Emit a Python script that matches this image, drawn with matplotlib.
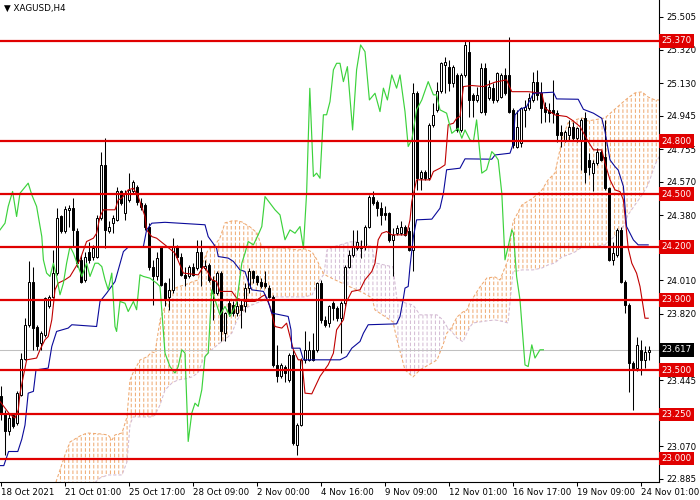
import matplotlib
matplotlib.use("Agg")
import matplotlib.pyplot as plt
import numpy as np
from matplotlib.transforms import blended_transform_factory

# ---------------- data ----------------
opens = [
    23.352, 23.258, 23.154, 23.249, 23.201, 23.362, 23.564, 23.759, 24.004, 23.749,
    23.655, 23.702, 23.863, 23.919, 24.052, 24.373, 24.288, 24.411, 24.420, 24.288,
    24.127, 24.014, 24.174, 24.146, 24.146, 24.363, 24.666, 24.288, 24.335, 24.354,
    24.515, 24.392, 24.467, 24.518, 24.543, 24.448, 24.439, 24.316, 24.089, 24.033,
    24.203, 23.995, 23.919, 23.957, 24.203, 24.146, 24.042, 24.033, 24.089, 24.080,
    24.174, 24.080, 24.099, 24.014, 23.938, 24.052, 23.711, 23.881, 23.872, 23.825,
    23.872, 23.863, 23.967, 24.061, 24.033, 24.004, 23.995, 23.967, 23.919, 23.532,
    23.466, 23.522, 23.447, 23.589, 23.078, 23.192, 23.560, 23.560, 23.617, 23.617,
    23.995, 23.787, 23.768, 23.881, 23.853, 23.796, 23.881, 24.089, 24.156, 24.193,
    24.203, 24.203, 24.316, 24.486, 24.458, 24.420, 24.392, 24.392, 24.241, 24.278,
    24.278, 24.316, 24.288, 24.184, 25.072, 24.590, 24.628, 24.590, 24.893, 24.978,
    25.082, 25.233, 25.223, 25.129, 25.176, 24.864, 25.176, 25.308, 25.063, 25.034,
    24.968, 25.214, 25.044, 25.101, 25.034, 25.053, 25.176, 25.176, 24.978, 24.770,
    24.789, 24.978, 24.987, 25.034, 25.138, 25.072, 24.996, 24.978, 24.978, 24.959,
    24.855, 24.808, 24.836, 24.883, 24.817, 24.808, 24.930, 24.694, 24.618, 24.675,
    24.741, 24.713, 24.533, 24.127, 24.156, 24.297, 24.004, 23.872, 23.541, 23.513,
    23.617, 23.560, 23.607]
highs = [
    23.409, 23.277, 23.258, 23.258, 23.381, 23.598, 23.797, 24.118, 24.089, 23.759,
    23.721, 23.919, 23.929, 24.184, 24.420, 24.382, 24.430, 24.439, 24.477, 24.307,
    24.156, 24.174, 24.231, 24.212, 24.382, 24.741, 24.817, 24.345, 24.382, 24.543,
    24.524, 24.524, 24.619, 24.581, 24.552, 24.477, 24.448, 24.335, 24.127, 24.174,
    24.203, 24.004, 24.023, 24.250, 24.212, 24.165, 24.089, 24.099, 24.108, 24.241,
    24.241, 24.127, 24.108, 24.033, 24.061, 24.061, 23.834, 23.900, 23.891, 23.891,
    23.900, 23.995, 24.080, 24.070, 24.042, 24.023, 24.061, 23.985, 23.929, 23.645,
    23.541, 23.532, 23.598, 23.617, 23.201, 23.570, 23.721, 23.664, 23.711, 24.004,
    24.014, 23.806, 23.872, 23.891, 23.863, 23.891, 24.099, 24.184, 24.297, 24.297,
    24.241, 24.326, 24.496, 24.515, 24.467, 24.458, 24.430, 24.401, 24.307, 24.326,
    24.345, 24.326, 24.316, 25.129, 25.082, 24.637, 24.637, 24.902, 25.015, 25.138,
    25.252, 25.280, 25.261, 25.233, 25.186, 25.186, 25.375, 25.375, 25.072, 25.110,
    25.242, 25.242, 25.148, 25.129, 25.195, 25.185, 25.214, 25.390, 24.987, 24.978,
    24.996, 25.034, 25.072, 25.195, 25.204, 25.138, 25.025, 25.015, 25.148, 24.978,
    24.892, 24.864, 24.921, 24.911, 24.883, 24.930, 24.968, 24.732, 24.694, 24.760,
    24.751, 24.921, 24.543, 24.231, 24.307, 24.316, 24.014, 23.881, 23.551, 23.692,
    23.674, 23.636, 23.636]
lows = [
    23.220, 23.020, 23.135, 23.173, 23.192, 23.352, 23.560, 23.749, 23.617, 23.617,
    23.617, 23.692, 23.853, 23.910, 24.042, 24.278, 24.278, 24.316, 24.203, 24.089,
    23.995, 24.004, 24.108, 24.127, 24.137, 24.354, 24.193, 24.278, 24.278, 24.345,
    24.439, 24.354, 24.458, 24.505, 24.439, 24.411, 24.297, 24.070, 23.872, 24.014,
    23.976, 23.863, 23.844, 23.938, 24.137, 24.033, 23.976, 24.023, 24.033, 24.070,
    23.976, 24.070, 24.004, 23.787, 23.929, 23.664, 23.664, 23.806, 23.806, 23.806,
    23.740, 23.834, 23.938, 23.995, 23.985, 23.967, 23.967, 23.910, 23.522, 23.437,
    23.456, 23.437, 23.437, 23.078, 23.022, 23.182, 23.541, 23.551, 23.551, 23.607,
    23.768, 23.749, 23.749, 23.787, 23.778, 23.598, 23.863, 24.080, 24.146, 24.184,
    24.137, 24.184, 24.307, 24.439, 24.373, 24.326, 24.354, 24.231, 24.033, 24.269,
    24.269, 24.260, 24.175, 24.061, 24.524, 24.524, 24.581, 24.581, 24.883, 24.968,
    25.072, 25.072, 25.082, 25.110, 24.855, 24.855, 25.167, 24.940, 24.940, 25.025,
    24.959, 24.949, 25.034, 25.015, 25.025, 25.044, 25.063, 24.959, 24.760, 24.760,
    24.770, 24.883, 24.978, 25.025, 25.034, 24.902, 24.911, 24.911, 24.902, 24.798,
    24.770, 24.798, 24.808, 24.808, 24.798, 24.637, 24.562, 24.609, 24.515, 24.666,
    24.685, 24.524, 24.118, 24.099, 24.146, 23.995, 23.825, 23.380, 23.276, 23.494,
    23.475, 23.513, 23.560]
closes = [
    23.258, 23.154, 23.229, 23.182, 23.371, 23.564, 23.759, 24.004, 23.740, 23.636,
    23.711, 23.910, 23.919, 24.052, 24.363, 24.288, 24.414, 24.424, 24.297, 24.108,
    24.004, 24.146, 24.127, 24.193, 24.363, 24.666, 24.297, 24.312, 24.367, 24.515,
    24.448, 24.505, 24.524, 24.566, 24.458, 24.426, 24.316, 24.089, 24.033, 24.137,
    23.985, 23.900, 23.957, 24.203, 24.146, 24.042, 24.023, 24.089, 24.042, 24.174,
    24.089, 24.093, 24.014, 23.938, 24.052, 23.721, 23.825, 23.825, 23.825, 23.863,
    23.844, 23.967, 24.061, 24.023, 24.004, 23.976, 23.976, 23.919, 23.532, 23.466,
    23.532, 23.485, 23.589, 23.088, 23.192, 23.560, 23.617, 23.617, 23.560, 23.995,
    23.787, 23.759, 23.863, 23.853, 23.796, 23.881, 24.089, 24.156, 24.203, 24.231,
    24.193, 24.316, 24.486, 24.448, 24.420, 24.382, 24.382, 24.241, 24.269, 24.307,
    24.316, 24.269, 24.184, 25.072, 24.590, 24.628, 24.590, 24.893, 24.949, 25.082,
    25.242, 25.252, 25.129, 25.223, 24.864, 25.176, 25.346, 25.034, 25.034, 25.063,
    25.214, 24.968, 25.110, 25.034, 25.185, 25.176, 25.072, 24.968, 24.779, 24.883,
    24.987, 24.996, 25.044, 25.138, 25.063, 24.987, 24.968, 24.959, 24.959, 24.836,
    24.836, 24.855, 24.883, 24.817, 24.874, 24.921, 24.628, 24.656, 24.675, 24.741,
    24.694, 24.533, 24.127, 24.165, 24.297, 24.004, 23.872, 23.541, 23.513, 23.645,
    23.560, 23.607, 23.617]

# Tenkan-sen (red)
tenkan_bars = [
    -0.25, 2.25, 3.5, 4.33, 4.75, 5.58, 6.42, 8.9, 9.75, 11.0,
    11.8, 12.7, 13.5, 14.3, 16.0, 17.25, 18.5, 19.75, 21.4, 23.1,
    23.9, 24.75, 25.6, 28.5, 29.3, 30.2, 31.8, 33.1, 34.3, 36.0,
    36.4, 37.7, 38.9, 41.0, 43.5, 45.6, 49.3, 50.6, 51.4, 52.7,
    53.9, 54.75, 57.7, 58.9, 61, 63.5, 65.2, 66, 67.25, 68.5,
    70.2, 71.4, 72.25, 73.1, 74.3, 75.2, 76, 77.7, 79.75, 81.8,
    83.1, 83.9, 84.75, 85.6, 86.4, 87.7, 89.75, 91, 92.7, 93.5,
    94.3, 95.2, 96.4, 97.7, 101.4, 102.25, 102.7, 103.9, 107.25, 108.1,
    109.75, 111, 111.8, 113.1, 113.9, 114.75, 115.6, 117.7, 120.6, 123.5,
    126.4, 127.7, 131.8, 135.2, 136, 138.5, 141.4, 142.7, 144.75, 146.8,
    148.1, 150.2, 151, 152.25, 153.5, 154.75, 155.6, 156.8, 157.7, 158.9,
    159.75, 161, 161.8]
tenkan_vals = [
    23.324, 23.249, 23.230, 23.277, 23.371, 23.466, 23.560, 23.570, 23.617, 23.674,
    23.692, 23.787, 23.957, 23.995, 24.014, 24.033, 24.080, 24.127, 24.231, 24.250,
    24.278, 24.373, 24.411, 24.411, 24.467, 24.477, 24.524, 24.533, 24.486, 24.373,
    24.297, 24.259, 24.250, 24.212, 24.165, 24.052, 24.042, 24.089, 24.070, 24.014,
    24.004, 23.948, 23.948, 23.910, 23.891, 23.891, 23.919, 23.929, 23.863, 23.749,
    23.740, 23.768, 23.692, 23.617, 23.560, 23.560, 23.371, 23.367, 23.466, 23.532,
    23.598, 23.730, 23.759, 23.787, 23.891, 23.948, 23.957, 24.014, 24.061, 24.108,
    24.241, 24.278, 24.288, 24.269, 24.269, 24.354, 24.458, 24.581, 24.581, 24.628,
    24.647, 24.666, 24.893, 24.902, 24.930, 24.940, 25.110, 25.116, 25.110, 25.135,
    25.148, 25.081, 25.081, 25.072, 24.987, 24.949, 24.940, 24.921, 24.883, 24.798,
    24.751, 24.751, 24.675, 24.581, 24.524, 24.514, 24.467, 24.193, 24.108, 24.051,
    23.976, 23.796, 23.796]

# Kijun-sen (blue)
kijun_bars = [
    -0.25, 0.7, 1.9, 4.2, 5.2, 6.0, 6.8, 8.1, 8.75, 11.8,
    12.7, 13.9, 16.8, 17.7, 23.9, 24.75, 26.4, 28.5, 30.6, 31.8,
    35.6, 36.4, 37.7, 41, 51, 51.8, 53.9, 54.3, 56.8, 58.1,
    59.75, 61, 61.8, 62.7, 65.6, 66.8, 67.7, 71.8, 72.5, 72.7,
    74.75, 75.6, 84.75, 86.4, 87.7, 89.75, 90.6, 91.8, 98.9, 99.75,
    100.6, 101, 101.8, 102.25, 103.1, 103.9, 107.7, 109.75, 110.6, 111.4,
    114.75, 116, 122.7, 123.5, 127.25, 128.1, 128.5, 129.75, 131.4, 133.1,
    138.1, 138.9, 144.3, 145.6, 148.1, 150.2, 151, 152.25, 153.5, 154.3,
    155.6, 156.4, 157.25, 158.1, 159.3, 161.8]
kijun_vals = [
    22.960, 22.960, 23.040, 23.040, 23.110, 23.190, 23.371, 23.381, 23.503, 23.513,
    23.636, 23.721, 23.740, 23.759, 23.749, 23.891, 23.938, 24.004, 24.174, 24.199,
    24.203, 24.297, 24.335, 24.340, 24.326, 24.259, 24.193, 24.146, 24.137, 24.118,
    24.070, 24.061, 24.004, 23.957, 23.948, 23.891, 23.825, 23.806, 23.730, 23.626,
    23.626, 23.560, 23.560, 23.579, 23.626, 23.664, 23.711, 23.759, 23.764, 23.806,
    23.910, 23.967, 23.976, 24.089, 24.259, 24.354, 24.358, 24.420, 24.505, 24.638,
    24.647, 24.700, 24.698, 24.722, 24.732, 24.788, 24.949, 24.981, 24.996, 25.072,
    25.078, 25.040, 25.038, 24.981, 24.959, 24.930, 24.855, 24.694, 24.656, 24.637,
    24.543, 24.316, 24.278, 24.240, 24.212, 24.212]

# Chikou span (green)
chikou_bars = [
    -0.25, 1, 1.8, 2.9, 3.9, 4.75, 6.8, 7.7, 8.9, 10.2,
    10.6, 11.4, 12.25, 13.1, 13.9, 14.75, 15.6, 16.4, 17.25, 18.1,
    19.3, 20.2, 21.4, 22.25, 23.5, 24.3, 25.2, 26, 26.8, 27.7,
    28.5, 28.9, 29.75, 31, 31.8, 33.1, 33.9, 34.75, 35.6, 37.25,
    38.9, 39.75, 41, 42.25, 43.5, 44.3, 45.2, 46, 46.8, 47.7,
    48.5, 49.3, 50.2, 51, 51.8, 52.7, 53.5, 54.75, 56, 57.25,
    58.1, 58.9, 60.2, 61, 61.8, 63.1, 64.3, 65.2, 66, 68.5,
    69.75, 71, 72.25, 73.5, 74.75, 75.6, 76.4, 77.2, 78.1, 78.9,
    79.75, 80.6, 81.4, 82.25, 83.1, 83.9, 84.75, 85.6, 86.6, 87.9,
    88.9, 89.9, 91, 92.1, 93.5, 94.75, 95.6, 96.6, 97.7, 98.9,
    99.75, 101, 101.8, 102.7, 103.9, 105.2, 106.8, 108.1, 108.9, 109.75,
    111.4, 112.7, 114.3, 115.2, 116, 117.25, 118.1, 118.9, 120.2, 121.4,
    122.7, 123.5, 124.3, 125.2, 126, 126.8, 127.7, 128.1, 128.9, 129.75,
    130.6, 131, 131.8, 132.7, 133.5, 134.75, 135.6]
chikou_vals = [
    24.297, 24.335, 24.430, 24.515, 24.373, 24.505, 24.562, 24.496, 24.430, 24.259,
    24.127, 24.052, 24.033, 24.108, 24.033, 23.929, 23.995, 24.108, 24.203, 24.165,
    24.089, 24.033, 24.108, 24.033, 24.108, 24.108, 24.089, 24.014, 23.957, 24.052,
    23.749, 23.721, 23.891, 23.881, 23.834, 23.891, 23.844, 24.042, 24.033, 24.023,
    23.995, 23.976, 23.598, 23.522, 23.485, 23.522, 23.617, 23.598, 23.097, 23.258,
    23.314, 23.296, 23.390, 23.579, 23.598, 23.957, 23.900, 23.815, 23.863, 23.806,
    23.844, 23.881, 24.108, 24.165, 24.231, 24.212, 24.269, 24.316, 24.486, 24.411,
    24.382, 24.241, 24.297, 24.278, 24.316, 24.193, 24.505, 25.100, 24.600, 24.619,
    24.590, 24.950, 24.950, 25.025, 25.205, 25.242, 25.242, 25.138, 25.223, 24.864,
    25.205, 25.346, 25.308, 25.034, 25.072, 24.968, 25.101, 25.034, 25.176, 25.101,
    25.176, 24.968, 24.770, 24.808, 24.978, 25.034, 25.138, 25.063, 25.063, 24.978,
    24.959, 24.845, 24.874, 24.817, 24.864, 24.808, 24.798, 24.921, 24.619, 24.638,
    24.741, 24.722, 24.694, 24.505, 24.127, 24.203, 24.297, 24.278, 24.033, 23.900,
    23.654, 23.531, 23.522, 23.645, 23.570, 23.617, 23.617]

# Senkou spans A / B (cloud)
senkou_bars = [
    13.75, 14.75, 16, 17.25, 19.75, 21.5, 24.75, 26.75, 27.75, 28.5,
    30.25, 31.5, 32.25, 33, 34.75, 36.5, 37.75, 38.5, 39.75, 41,
    42.75, 44.25, 46, 47.75, 49.25, 50.5, 51.75, 53.5, 54.75, 56,
    57.75, 59, 60.25, 61.75, 62.25, 64, 65.25, 66, 67.75, 70.25,
    74.25, 76, 77.75, 79, 79.75,
    80.75, 81.5, 83, 87.25, 90.5, 92.75, 93.5, 98, 99, 101,
    103, 104.75, 109, 110.5, 111.5, 112.25,
    112.75, 114, 115.5, 116.5, 117.25, 118, 119.75, 121.5, 123.5, 124.75,
    126.75, 128, 130.25, 133, 135.25, 136.75, 138.5, 140.25, 141.75, 143.5,
    145.25, 146.75, 151, 155.25, 156.75, 158.5, 160.25, 161.75, 163.5, 164.75]
senkou_a = [
    22.867, 22.936, 23.021, 23.094, 23.128, 23.145, 23.140, 23.134, 23.106, 23.134,
    23.145, 23.236, 23.446, 23.486, 23.559, 23.577, 23.605, 23.599, 23.786, 23.860,
    23.957, 23.974, 23.985, 24.002, 24.013, 24.115, 24.183, 24.212, 24.252, 24.337,
    24.348, 24.348, 24.342, 24.320, 24.314, 24.280, 24.195, 24.195, 24.195, 24.195,
    24.183, 24.189, 24.172, 24.127, 24.087,
    24.047, 24.036, 24.019, 23.974, 23.940, 23.911, 23.843, 23.775, 23.673, 23.503,
    23.463, 23.503, 23.559, 23.645, 23.713, 23.730,
    23.747, 23.803, 23.832, 23.843, 23.888, 23.911, 23.974, 24.025, 24.030, 24.013,
    24.127, 24.342, 24.439, 24.478, 24.524, 24.580, 24.620, 24.807, 24.904, 24.921,
    24.932, 24.915, 24.932, 25.017, 25.046, 25.074, 25.080, 25.051, 25.034, 25.034]
senkou_b = [
    22.822, 22.822, 22.822, 22.822, 22.822, 22.822, 22.890, 22.907, 22.907, 22.907,
    22.907, 22.981, 23.191, 23.236, 23.236, 23.236, 23.236, 23.247, 23.304, 23.389,
    23.429, 23.446, 23.452, 23.463, 23.486, 23.559, 23.599, 23.633, 23.656, 23.673,
    23.713, 23.786, 23.826, 23.860, 23.866, 23.883, 23.894, 23.911, 23.917, 23.917,
    23.917, 23.917, 23.928, 23.985, 24.013,
    24.047, 24.183, 24.200, 24.229, 24.229, 24.200, 24.110, 24.087, 23.900, 23.883,
    23.871, 23.815, 23.815, 23.786, 23.747, 23.730,
    23.718, 23.684, 23.662, 23.713, 23.747, 23.769, 23.775, 23.781, 23.786, 23.781,
    23.769, 24.059, 24.070, 24.070, 24.081, 24.098, 24.110, 24.144, 24.155, 24.172,
    24.200, 24.200, 24.212, 24.297, 24.382, 24.439, 24.495, 24.552, 24.666, 24.722]

level_prices = [25.370, 24.800, 24.500, 24.200, 23.900, 23.500, 23.250, 23.000]
last_price = 23.617
price_ticks = [25.505, 25.320, 25.130, 24.945, 24.755, 24.570, 24.380,
               24.010, 23.820, 23.445, 23.070, 22.885]
date_tick_bars = [0, 16, 32, 48, 64, 80, 96, 112, 128, 144, 160]
date_tick_labels = ['18 Oct 2021', '21 Oct 01:00', '25 Oct 17:00', '28 Oct 09:00',
                    '2 Nov 00:00', '4 Nov 16:00', '9 Nov 09:00', '12 Nov 01:00',
                    '16 Nov 17:00', '19 Nov 09:00', '24 Nov 01:00']
title = 'XAGUSD,H4'

# ---------------- plot ----------------
plt.rcParams['font.family'] = ['DejaVu Sans']
plt.rcParams['hatch.linewidth'] = 0.72

fig = plt.figure(figsize=(7, 5), dpi=100)
fig.patch.set_facecolor('white')
ax = fig.add_axes([0, 18 / 500, 659 / 700, 482 / 500])
ax.set_facecolor('white')

x = np.arange(len(closes))
o = np.array(opens); h = np.array(highs); l = np.array(lows); c = np.array(closes)

# cloud (dotted vertical hatch)
sx = np.array(senkou_bars); sa = np.array(senkou_a); sb = np.array(senkou_b)
ax.fill_between(sx, sa, sb, where=sa >= sb, interpolate=True, facecolor='none',
                edgecolor='#EFA970', hatch='||||', linewidth=0, zorder=1)
ax.fill_between(sx, sa, sb, where=sb > sa, interpolate=True, facecolor='none',
                edgecolor='#D3BAD3', hatch='||||', linewidth=0, zorder=1)
breaker = ax.fill_between(sx, sa, sb, facecolor='none', edgecolor='white',
                          hatch='---', linewidth=0, zorder=1.1)
if hasattr(breaker, 'set_hatch_linewidth'):
    breaker.set_hatch_linewidth(1.45)
ax.plot(sx, sa, color='#EFA970', lw=0.75, ls=(0, (3, 2)), zorder=1.2)
ax.plot(sx, sb, color='#D3BAD3', lw=0.75, ls=(0, (3, 2)), zorder=1.2)

# last price line
ax.axhline(last_price, color='#C0C0C0', lw=0.75, zorder=1.5)

# candles
ax.vlines(x, l, h, color='black', lw=0.75, zorder=3)
bull = c >= o
body = np.abs(c - o)
body = np.where(body < 0.003, 0.003, body)
ax.bar(x[bull], body[bull], bottom=np.minimum(o, c)[bull], width=0.5,
       facecolor='white', edgecolor='black', linewidth=0.72, zorder=3.1)
ax.bar(x[~bull], body[~bull], bottom=np.minimum(o, c)[~bull], width=0.5,
       facecolor='black', edgecolor='black', linewidth=0.72, zorder=3.1)

# indicator lines
ax.plot(tenkan_bars, tenkan_vals, color='#C00000', lw=0.8, zorder=3.5)
ax.plot(kijun_bars, kijun_vals, color='#0A0A9A', lw=0.8, zorder=3.5)
ax.plot(chikou_bars, chikou_vals, color='#3CD23C', lw=0.85, zorder=3.5)

# horizontal levels
for lv in level_prices:
    ax.axhline(lv, color='#E00000', lw=1.6, zorder=4)

ax.set_xlim(-0.25, 164.5)
ax.set_ylim(22.867, 25.601)

# axes styling
for s in ['left', 'top']:
    ax.spines[s].set_visible(False)
for s in ['right', 'bottom']:
    ax.spines[s].set_color('black')
    ax.spines[s].set_linewidth(0.8)

ax.yaxis.tick_right()
ax.set_yticks(price_ticks)
ax.set_yticklabels([f'{p:.3f}' for p in price_ticks])
ax.tick_params(axis='y', direction='out', length=3, width=0.75, pad=2,
               labelsize=6.2, colors='black')
ax.set_xticks(date_tick_bars)
ax.set_xticklabels(date_tick_labels, ha='left')
ax.tick_params(axis='x', direction='out', length=3, width=0.75, pad=1.5,
               labelsize=6.2, colors='black')

trans = blended_transform_factory(ax.transAxes, ax.transData)
for lv in level_prices:
    ax.text(1.004, lv, f'{lv:.3f}', transform=trans, color='white', fontsize=6.2,
            va='center', ha='left', clip_on=False, zorder=10,
            bbox=dict(boxstyle='square,pad=0.28', fc='#E00000', ec='none'))
ax.text(1.004, last_price, f'{last_price:.3f}', transform=trans, color='white',
        fontsize=6.2, va='center', ha='left', clip_on=False, zorder=10,
        bbox=dict(boxstyle='square,pad=0.28', fc='black', ec='none'))

ax.text(0.006, 0.992, '\u25BC ' + title, transform=ax.transAxes, fontsize=6.3,
        va='top', ha='left', color='black', zorder=10)

fig.savefig('out.png', dpi=100)
